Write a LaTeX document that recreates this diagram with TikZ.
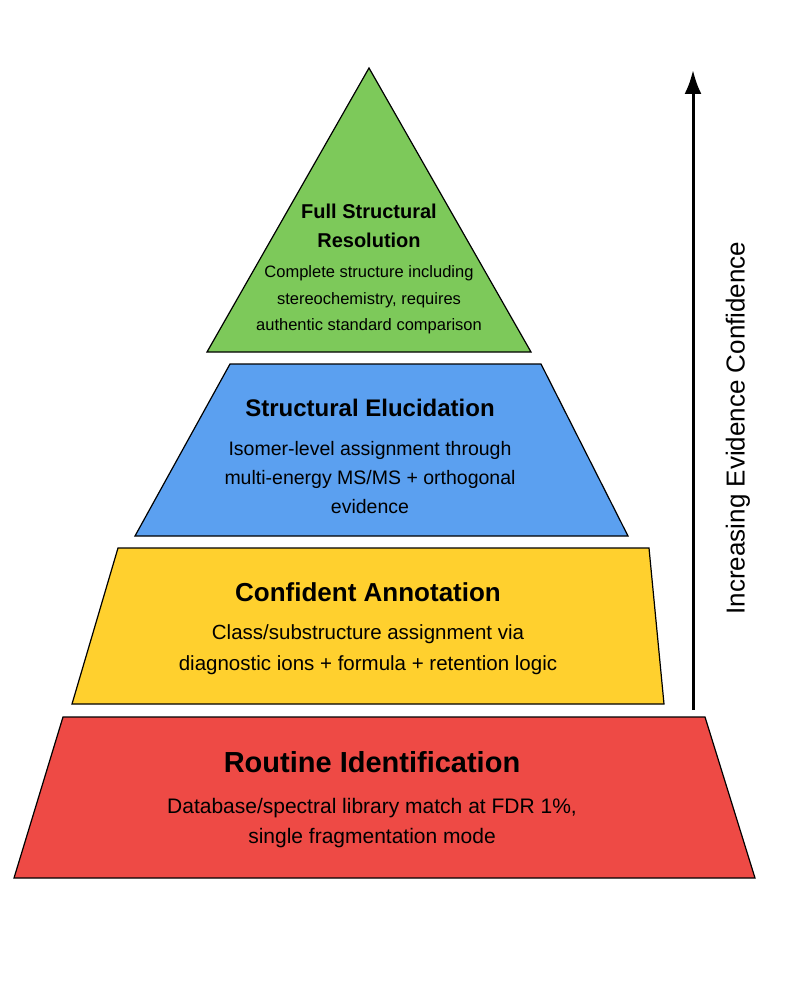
\documentclass[tikz,border=0pt]{standalone}
\usepackage{fontspec}
\setmainfont{Liberation Sans}
\usetikzlibrary{arrows.meta,positioning}

\definecolor{levelgreen}{HTML}{7DC95A}
\definecolor{levelblue}{HTML}{5BA0F0}
\definecolor{levelyellow}{HTML}{FFD02E}
\definecolor{levelred}{HTML}{EE4A45}

\tikzset{
    tier/.style={draw=black, line width=1.2pt, line join=miter},
    title/.style={font=\bfseries, align=center},
    desc/.style={align=center, font=\fontsize{19.5}{29}\selectfont}
}

\begin{document}
\begin{tikzpicture}[x=1pt, y=-1pt]
    \useasboundingbox (0,0) rectangle (785,981);

    % tiers, top to bottom
    \draw[tier, fill=levelgreen] (369,68) -- (531,352) -- (207,352) -- cycle;
    \draw[tier, fill=levelblue] (230,364) -- (541,364) -- (628,536) -- (135,536) -- cycle;
    \draw[tier, fill=levelyellow] (118,548) -- (649,548) -- (664,704) -- (72,704) -- cycle;
    \draw[tier, fill=levelred] (63,717) -- (705,717) -- (755,878) -- (14,878) -- cycle;

    % texts
    \node[title, font=\bfseries\fontsize{20}{29}\selectfont] (fulltitle) at (369,226) {Full Structural\\Resolution};
    \node[desc, font=\fontsize{16.5}{26.5}\selectfont] (fulldesc) at (369,300) {Complete structure including\\stereochemistry, requires\\authentic standard comparison};

    \node[title, font=\bfseries\fontsize{24}{26}\selectfont] (elutitle) at (370,408) {Structural Elucidation};
    \node[desc] (eludesc) at (370,478) {Isomer-level assignment through\\multi-energy MS/MS + orthogonal\\evidence};

    \node[title, font=\bfseries\fontsize{26}{28}\selectfont] (anntitle) at (368,592) {Confident Annotation};
    \node[desc, font=\fontsize{20.5}{31}\selectfont] (anndesc) at (368,650) {Class/substructure assignment via\\diagnostic ions + formula + retention logic};

    \node[title, font=\bfseries\fontsize{29}{30}\selectfont] (routtitle) at (372,762) {Routine Identification};
    \node[desc, font=\fontsize{21}{30}\selectfont] (routdesc) at (372,823) {Database/spectral library match at FDR 1\%,\\single fragmentation mode};

    % confidence arrow
    \coordinate (arrowlow) at (693,710);
    \coordinate (arrowhigh) at (693,70);
    \draw[line width=3pt, -{Latex[length=24pt,width=17pt]}] (arrowlow) -- (arrowhigh);
    \node[rotate=90, font=\fontsize{26}{30}\selectfont] (arrowlabel) at (738,428) {Increasing Evidence Confidence};
\end{tikzpicture}
\end{document}
